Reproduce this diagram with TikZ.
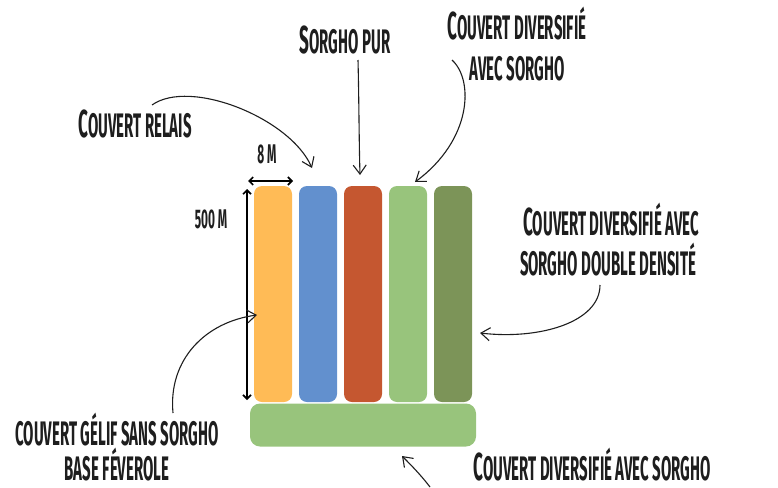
\documentclass[tikz,border=0pt]{standalone}
\usepackage{fontspec}
\setmainfont[FakeStretch=0.44]{Fira Sans}
\usetikzlibrary{arrows.meta}
\definecolor{cOrange}{HTML}{FFBB56}
\definecolor{cBlue}{HTML}{6290CE}
\definecolor{cRed}{HTML}{C55730}
\definecolor{cLight}{HTML}{98C47C}
\definecolor{cDark}{HTML}{7C9458}
\definecolor{ink}{HTML}{1E1E1E}
\newcommand\K[1]{{\fontsize{39}{46}\selectfont #1}}
\tikzset{
  stripe/.style={rounded corners=8pt, minimum width=38pt, minimum height=216pt, inner sep=0pt},
  bar/.style={rounded corners=10pt, minimum width=226pt, minimum height=43pt, inner sep=0pt, fill=cLight},
  lbl/.style={font=\fontsize{34}{40}\selectfont\bfseries, anchor=base, inner sep=0pt, text=ink},
  smalllbl/.style={font=\fontsize{27}{32}\selectfont\bfseries, anchor=base, inner sep=0pt, text=ink},
  callout/.style={-{Straight Barb[length=9pt,width=13pt]}, line width=1.1pt, draw=ink},
  dim/.style={{Straight Barb[length=4pt,width=8pt]}-{Straight Barb[length=4pt,width=8pt]}, line width=1.6pt, draw=black}
}
\begin{document}
\begin{tikzpicture}[x=1pt,y=-1pt]
\useasboundingbox (0,0) rectangle (778,487);
% stripes
\node[stripe, fill=cOrange] (s1) at (273,294) {};
\node[stripe, fill=cBlue]   (s2) at (318,294) {};
\node[stripe, fill=cRed]    (s3) at (363,294) {};
\node[stripe, fill=cLight]  (s4) at (408,294) {};
\node[stripe, fill=cDark]   (s5) at (453,294) {};
\node[bar] (b1) at (363,425) {};
% dimensions
\coordinate (h1) at (248,181);
\coordinate (h2) at (293,181);
\coordinate (v1) at (247,189);
\coordinate (v2) at (247,400);
\draw[dim] (h1) -- (h2);
\draw[dim] (v1) -- (v2);
\node[smalllbl] (w) at (267,163) {8 M};
\node[smalllbl] (l) at (211,228) {500 M};
% labels
\node[lbl] (relais) at (135,137) {\K{C}OUVERT RELAIS};
\node[lbl] (pur) at (345,53) {\K{S}ORGHO PUR};
\node[lbl] (div1) at (517,40) {\K{C}OUVERT DIVERSIFIÉ};
\node[lbl] (div2) at (517,80) {AVEC SORGHO};
\node[lbl] (dd1) at (611,235) {\K{C}OUVERT DIVERSIFIÉ AVEC};
\node[lbl] (dd2) at (608,275) {SORGHO DOUBLE DENSITÉ};
\node[lbl] (gel1) at (117,445) {COUVERT GÉLIF SANS SORGHO};
\node[lbl] (gel2) at (117,480) {BASE FÉVEROLE};
\node[lbl] (divb) at (592,480) {\K{C}OUVERT DIVERSIFIÉ AVEC SORGHO};
% callout anchors
\coordinate (a1) at (152,105); \coordinate (e1) at (312,168);
\coordinate (a2) at (358,60);  \coordinate (e2) at (360,175);
\coordinate (a3) at (452,60);  \coordinate (e3) at (415,182);
\coordinate (a4) at (600,285); \coordinate (e4) at (480,333);
\coordinate (a5) at (173,413); \coordinate (e5) at (257,315);
\coordinate (a6) at (430,487); \coordinate (e6) at (402,456);
\draw[callout] (a1) .. controls (190,78) and (290,118) .. (e1);
\draw[callout] (a2) .. controls (359,100) and (359,140) .. (e2);
\draw[callout] (a3) .. controls (474,80) and (472,140) .. (e3);
\draw[callout] (a4) .. controls (600,322) and (540,340) .. (e4);
\draw[callout] (a5) .. controls (168,360) and (205,322) .. (e5);
\draw[callout] (a6) .. controls (420,474) and (410,464) .. (e6);
\end{tikzpicture}
\end{document}
